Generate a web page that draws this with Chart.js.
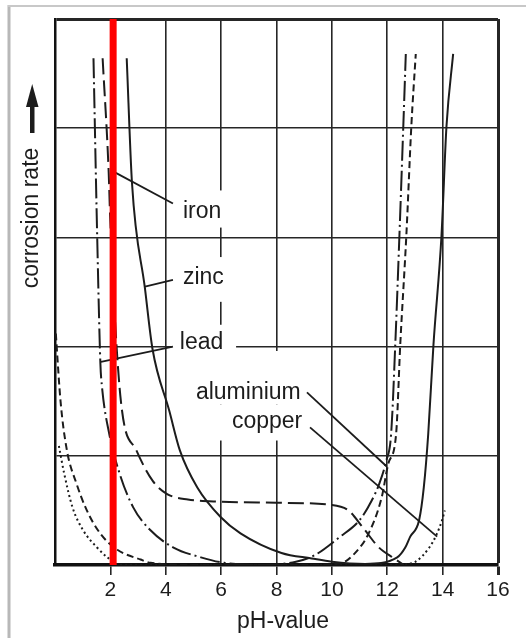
<!DOCTYPE html>
<html>
<head>
<meta charset="utf-8">
<script src="https://cdn.jsdelivr.net/npm/chart.js@4.4.0/dist/chart.umd.min.js"></script>
<style>
  html, body { margin: 0; padding: 0; background: #fff; }
</style>
</head>
<body>
<canvas id="chart" width="526" height="638"></canvas>
<script>
// pH axis ticks and the red marker line
const phTicks = [2, 4, 6, 8, 10, 12, 14, 16];
const markerPH = 2.1;

// corrosion rate curves (rate in grid units 0..5)
const ironPH   = [1.72, 1.94, 1.99, 2.38, 2.94, 3.53, 4.05, 4.8, 6.0, 8.0, 10.0, 10.6, 11.1, 11.7, 12.25, 12.6];
const ironRate = [4.64, 3.59, 3.2, 1.5, 1.05, 0.77, 0.65, 0.6, 0.58, 0.57, 0.55, 0.5, 0.35, 0.16, 0.06, 0.0];

const zincPH   = [2.59, 2.78, 3.25, 3.52, 4.13, 4.51, 5.14, 5.98, 6.7, 8.18, 9.27, 10.0, 11.2, 12.36, 12.65, 12.83, 13.15, 13.32, 13.48, 13.67, 13.96, 14.14, 14.38];
const zincRate = [4.64, 3.5, 2.53, 1.98, 1.41, 1.05, 0.71, 0.44, 0.29, 0.11, 0.06, 0.03, 0.01, 0.07, 0.16, 0.26, 0.41, 0.71, 1.2, 2.02, 3.02, 4.02, 4.68];

const leadPH   = [1.39, 1.52, 1.64, 1.69, 1.96, 2.33, 2.82, 3.44, 4.28, 5.27, 6.1, 7.5, 8.7, 9.38, 10.25, 11.0, 11.44, 11.72, 11.96, 12.14, 12.29, 12.44, 12.58, 12.67];
const leadRate = [4.64, 3.05, 1.84, 1.65, 1.2, 0.84, 0.53, 0.32, 0.16, 0.07, 0.02, 0.0, 0.03, 0.09, 0.25, 0.41, 0.59, 0.75, 0.95, 1.2, 2.02, 3.02, 4.02, 4.68];

const aluPH   = [0.03, 0.2, 0.43, 0.77, 1.15, 1.63, 2.25, 3.09, 3.45, 5.0, 9.0, 10.36, 10.8, 11.33, 11.8, 12.04, 12.32, 12.47, 12.69, 12.87, 13.03];
const aluRate = [2.12, 1.5, 1.05, 0.75, 0.5, 0.29, 0.14, 0.05, 0.02, 0.0, 0.0, 0.02, 0.1, 0.29, 0.62, 0.93, 1.2, 2.02, 3.02, 4.02, 4.68];

const copperPH   = [0.14, 0.33, 0.63, 1.01, 1.52, 1.89, 2.3, 6.0, 12.5, 12.73, 13.02, 13.52, 13.8, 13.98, 14.08];
const copperRate = [1.09, 0.84, 0.53, 0.32, 0.16, 0.07, 0.0, 0.0, 0.0, 0.01, 0.03, 0.16, 0.29, 0.41, 0.5];

const pts = (xs, ys) => xs.map((x, i) => ({x: x, y: ys[i]}));

const ink = '#1c1c1c';
const textFont = '23px "Liberation Sans", Arial, sans-serif';

// labels with leader lines, positions in data units
const labels = [
    {text: 'iron', at: [4.62, 3.24], lead: [4.26, 3.31, 2.13, 3.6], clear: [4.44, 6.39, 3.43, 3.09]},
    {text: 'zinc', at: [4.62, 2.63], lead: [4.26, 2.61, 3.25, 2.55], clear: [4.44, 6.39, 2.82, 2.41]},
    {text: 'lead', at: [4.51, 2.04], lead: [4.26, 2.0, 1.66, 1.86], clear: [4.23, 6.54, 2.2, 1.88]},
    {text: 'aluminium', at: [5.09, 1.58], lead: [9.1, 1.58, 11.99, 0.9], clear: [4.88, 9.06, 1.96, 1.47]},
    {text: 'copper', at: [6.39, 1.31], lead: [9.21, 1.26, 13.8, 0.26], clear: [5.78, 9.06, 1.47, 1.14]}
];

const decor = {
    id: 'decor',
    beforeDraw(chart) {
        const c = chart.ctx;
        c.save();
        c.fillStyle = '#fff';
        c.fillRect(0, 0, chart.width, chart.height);
        // picture frame
        c.strokeStyle = '#b8b8b8';
        c.lineWidth = 3;
        c.beginPath();
        c.moveTo(9, 5);
        c.lineTo(9, 638);
        c.stroke();
        c.strokeStyle = '#c8c8c8';
        c.lineWidth = 2;
        c.beginPath();
        c.moveTo(8, 6);
        c.lineTo(526, 6);
        c.stroke();
        c.restore();
    },
    beforeDatasetsDraw(chart) {
        const c = chart.ctx;
        const xs = chart.scales.x, ys = chart.scales.y;
        c.save();
        c.fillStyle = '#fff';
        labels.forEach(l => {
            const x0 = xs.getPixelForValue(l.clear[0]);
            const x1 = xs.getPixelForValue(l.clear[1]);
            const y0 = ys.getPixelForValue(l.clear[2]);
            const y1 = ys.getPixelForValue(l.clear[3]);
            c.fillRect(x0, y0, x1 - x0, y1 - y0);
        });
        c.restore();
    },
    afterDatasetsDraw(chart) {
        const c = chart.ctx;
        const xs = chart.scales.x, ys = chart.scales.y;
        c.save();
        c.strokeStyle = ink;
        c.fillStyle = ink;
        c.lineWidth = 1.8;
        c.font = textFont;
        c.textBaseline = 'middle';
        c.textAlign = 'left';
        labels.forEach(l => {
            c.beginPath();
            c.moveTo(xs.getPixelForValue(l.lead[0]), ys.getPixelForValue(l.lead[1]));
            c.lineTo(xs.getPixelForValue(l.lead[2]), ys.getPixelForValue(l.lead[3]));
            c.stroke();
            c.fillText(l.text, xs.getPixelForValue(l.at[0]), ys.getPixelForValue(l.at[1]));
        });
        // red marker on top of the leaders
        const rx = xs.getPixelForValue(markerPH);
        c.strokeStyle = 'rgb(255, 0, 0)';
        c.lineWidth = 7;
        c.beginPath();
        c.moveTo(rx, chart.chartArea.top);
        c.lineTo(rx, chart.chartArea.bottom);
        c.stroke();

        // axis titles
        c.fillStyle = ink;
        c.textAlign = 'center';
        c.fillText('pH-value', 283, 622);
        c.translate(32, 218);
        c.rotate(-Math.PI / 2);
        c.fillText('corrosion rate', 0, 0);
        c.restore();

        // arrow above the y title
        c.save();
        c.fillStyle = ink;
        c.fillRect(30, 104, 4.5, 29);
        c.beginPath();
        c.moveTo(32.2, 84);
        c.lineTo(26, 107);
        c.lineTo(38.5, 107);
        c.closePath();
        c.fill();
        c.restore();
    }
};

const lineStyle = {
    borderColor: ink,
    backgroundColor: ink,
    borderWidth: 2,
    pointRadius: 0,
    fill: false,
    cubicInterpolationMode: 'monotone'
};

const ctx = document.getElementById('chart').getContext('2d');
new Chart(ctx, {
    type: 'line',
    data: {
        datasets: [
            {...lineStyle, label: 'iron', data: pts(ironPH, ironRate), borderDash: [16, 6]},
            {...lineStyle, label: 'zinc', data: pts(zincPH, zincRate)},
            {...lineStyle, label: 'lead', data: pts(leadPH, leadRate), borderDash: [20, 4, 2, 4]},
            {...lineStyle, label: 'aluminium', data: pts(aluPH, aluRate), borderDash: [7, 4]},
            {...lineStyle, label: 'copper', data: pts(copperPH, copperRate), borderDash: [2, 3]}
        ]
    },
    options: {
        responsive: false,
        animation: false,
        layout: {
            padding: {left: 0, top: 19, right: 28, bottom: 0}
        },
        plugins: {
            legend: {display: false},
            tooltip: {enabled: false},
            colors: {enabled: false}
        },
        scales: {
            x: {
                type: 'linear',
                min: 0,
                max: 16,
                afterFit: s => { s.height = 73; },
                afterBuildTicks: s => { s.ticks = [0].concat(phTicks).map(v => ({value: v})); },
                ticks: {
                    color: ink,
                    padding: 3,
                    font: {family: '"Liberation Sans Narrow", "Liberation Sans", sans-serif', size: 21},
                    callback: v => (v === 0 ? '' : v)
                },
                grid: {
                    color: '#262626',
                    lineWidth: c => (c.tick && c.tick.value === 16 ? 3 : 1.6),
                    tickLength: 10,
                    tickColor: c => (c.tick && c.tick.value === 0 ? 'rgba(0,0,0,0)' : '#262626')
                },
                border: {color: '#111', width: 3.5}
            },
            y: {
                min: 0,
                max: 5,
                afterFit: s => { s.width = 55; },
                ticks: {display: false, stepSize: 1},
                grid: {
                    color: '#262626',
                    lineWidth: c => (c.tick && c.tick.value === 5 ? 3 : 1.6),
                    drawTicks: false
                },
                border: {color: '#111', width: 2.5}
            }
        }
    },
    plugins: [decor]
});
</script>
</body>
</html>
